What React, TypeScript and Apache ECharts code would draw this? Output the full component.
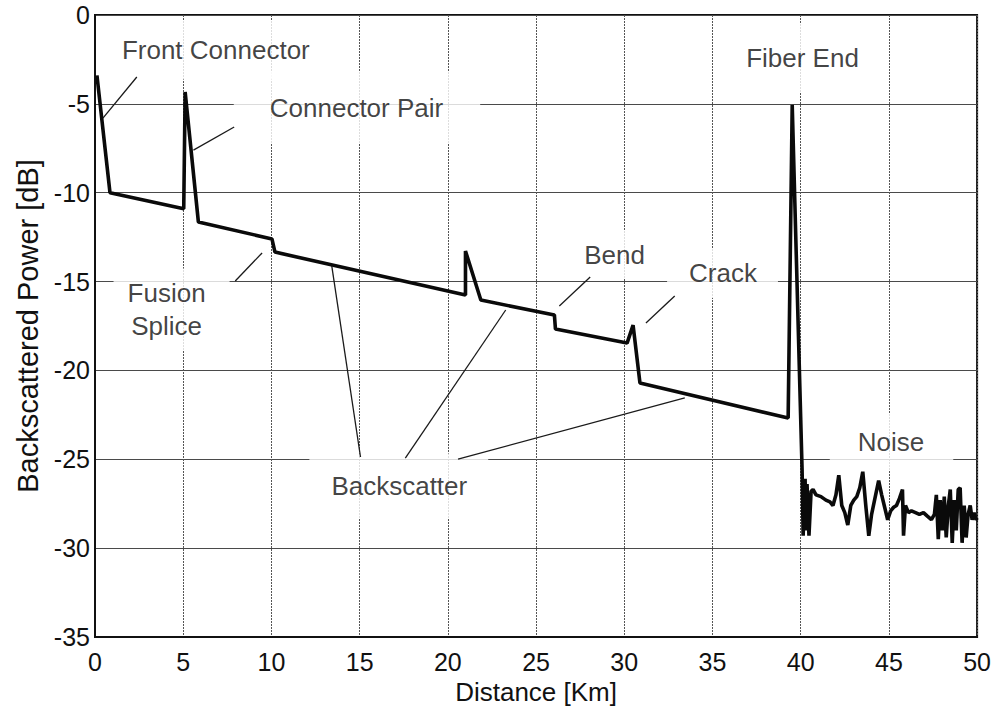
import React, { useEffect, useRef } from "react";
import * as echarts from "echarts";

// OTDR trace: distance (km) vs backscattered power (dB)
const traceKm = [0.11, 0.85, 5.03, 5.11, 5.86, 10.03, 10.2, 21.0, 21.0, 21.87, 26.04, 26.1, 30.16, 30.5, 30.89, 39.29, 39.52, 40.08];
const traceDb = [-3.4, -10.0, -10.9, -4.33, -11.65, -12.6, -13.34, -15.76, -13.28, -16.04, -16.88, -17.67, -18.46, -17.45, -20.71, -22.68, -5.06, -25.6];

// Noise floor after the fiber end
const noiseKm = [40.14, 40.25, 40.3, 40.36, 40.47, 40.59, 40.7, 40.87, 41.15, 41.43, 41.66, 41.83, 42.0, 42.16, 42.33, 42.5, 42.67, 42.84, 43.01, 43.18, 43.35, 43.52, 43.69, 43.86, 44.02, 44.25, 44.42, 44.59, 44.76, 44.93, 45.1, 45.27, 45.43, 45.6, 45.77, 45.83, 45.94, 46.11, 46.28, 46.51, 46.73, 46.96, 47.18, 47.41, 47.58, 47.69, 47.8, 47.91, 48.03, 48.14, 48.25, 48.37, 48.48, 48.59, 48.7, 48.82, 48.93, 49.04, 49.15, 49.27, 49.38, 49.49, 49.61, 49.72, 49.83, 49.94, 50.0];
const noiseDb = [-29.3, -26.1, -29.0, -26.4, -29.3, -26.8, -26.7, -27.0, -27.1, -27.3, -27.4, -27.6, -27.0, -25.9, -27.6, -28.0, -28.7, -27.6, -27.3, -27.1, -26.6, -25.7, -27.6, -29.3, -28.1, -27.0, -26.2, -27.0, -27.7, -28.4, -27.9, -27.7, -27.6, -27.2, -26.7, -29.3, -27.6, -28.0, -27.9, -28.0, -28.1, -28.0, -28.2, -28.4, -28.1, -27.0, -29.5, -27.3, -29.0, -27.1, -29.4, -27.6, -26.7, -29.7, -27.3, -29.0, -26.7, -26.6, -29.7, -27.6, -29.4, -28.1, -27.6, -28.4, -28.0, -28.4, -28.3];

// Event annotations: text and anchor (km, dB)
const noteText = ["Front Connector", "Connector Pair", "Fusion\nSplice", "Bend", "Crack", "Fiber End", "Noise", "Backscatter"];
const noteKm = [6.85, 14.85, 4.34, 29.45, 35.57, 40.16, 45.15, 17.22];
const noteDb = [-1.97, -5.23, -16.57, -13.48, -14.52, -2.42, -24.03, -26.5];

// Leader lines [km1, dB1, km2, dB2]
const leaders = [
  [2.37, -3.49, 0.45, -5.8],
  [7.89, -6.3, 5.58, -7.6],
  [9.47, -13.39, 7.95, -14.97],
  [13.42, -14.12, 15.05, -24.87],
  [23.28, -16.6, 17.59, -24.93],
  [33.43, -21.55, 20.58, -24.99],
  [28.07, -14.74, 26.32, -16.38],
  [32.86, -15.81, 31.23, -17.33],
];

const xTicks = { min: 0, max: 50, interval: 5 };
const yTicks = { min: -35, max: 0, interval: 5 };

// White boxes behind the annotation texts [top, right, bottom, left]
const notePadding: Record<string, number[]> = {
  "Front Connector": [12, 20, 14, 20],
  "Connector Pair": [18, 37, 21, 36],
  "Fusion\nSplice": [6, 24, 10, 14],
  Bend: [6, 12, 10, 12],
  Crack: [10, 21, 7, 22],
  "Fiber End": [17, 14, 19, 12],
  Noise: [11, 29, 13, 28],
  Backscatter: [16, 21, 16, 22],
};

const FONT = "'Liberation Sans', Arial, Helvetica, sans-serif";
const INK = "#111111";

export default function App() {
  const ref = useRef<HTMLDivElement>(null);

  useEffect(() => {
    if (!ref.current) return;
    const chart = echarts.init(ref.current, undefined, { renderer: "svg" });

    const tracePts = traceKm.map((k, i) => [k, traceDb[i]]).concat(noiseKm.map((k, i) => [k, noiseDb[i]]));

    const notes = noteText.map((t, i) => ({
      name: t,
      value: [noteKm[i], noteDb[i]],
      label: { padding: notePadding[t] },
    }));

    chart.setOption({
      animation: false,
      backgroundColor: "#ffffff",
      textStyle: { fontFamily: FONT },
      grid: {
        left: 95,
        right: 12,
        top: 15,
        bottom: 80,
        show: true,
        borderColor: "#111",
        borderWidth: 2,
        backgroundColor: "transparent",
      },
      xAxis: {
        type: "value",
        min: xTicks.min,
        max: xTicks.max,
        interval: xTicks.interval,
        name: "Distance [Km]",
        nameLocation: "middle",
        nameGap: 40,
        nameTextStyle: { fontFamily: FONT, fontSize: 26, color: INK },
        axisLine: { show: true, onZero: false, lineStyle: { color: "#111", width: 2 } },
        axisTick: { show: false },
        axisLabel: { fontFamily: FONT, fontSize: 25, color: INK, margin: 12 },
        splitLine: { show: true, lineStyle: { color: "#555", width: 1, type: [2, 1] } },
      },
      yAxis: {
        type: "value",
        min: yTicks.min,
        max: yTicks.max,
        interval: yTicks.interval,
        name: "Backscattered Power [dB]",
        nameLocation: "middle",
        nameGap: 52,
        nameTextStyle: { fontFamily: FONT, fontSize: 29, color: INK },
        axisLine: { show: true, onZero: false, lineStyle: { color: "#111", width: 2 } },
        axisTick: { show: false },
        axisLabel: { fontFamily: FONT, fontSize: 25, color: INK, margin: 5 },
        splitLine: { show: true, lineStyle: { color: "#4a4a4a", width: 1 } },
      },
      series: [
        {
          type: "line",
          data: tracePts,
          showSymbol: false,
          symbol: "none",
          lineStyle: { color: "#0a0a0a", width: 3.6 },
          z: 3,
        },
        {
          type: "scatter",
          data: notes,
          symbolSize: 0,
          z: 4,
          silent: true,
          label: {
            show: true,
            position: "inside",
            formatter: "{b}",
            fontFamily: FONT,
            fontSize: 26,
            lineHeight: 33,
            color: INK,
            align: "center",
            backgroundColor: "#ffffff",
          },
          markLine: {
            silent: true,
            symbol: ["none", "none"],
            label: { show: false },
            lineStyle: { color: "#1a1a1a", width: 1.3, type: "solid" },
            data: leaders.map((l) => [{ coord: [l[0], l[1]] }, { coord: [l[2], l[3]] }]),
          },
        },
      ],
    });

    return () => chart.dispose();
  }, []);

  return (
    <div
      ref={ref}
      style={{ position: "fixed", left: 0, top: 0, width: 994, height: 717, background: "#fff" }}
    />
  );
}
